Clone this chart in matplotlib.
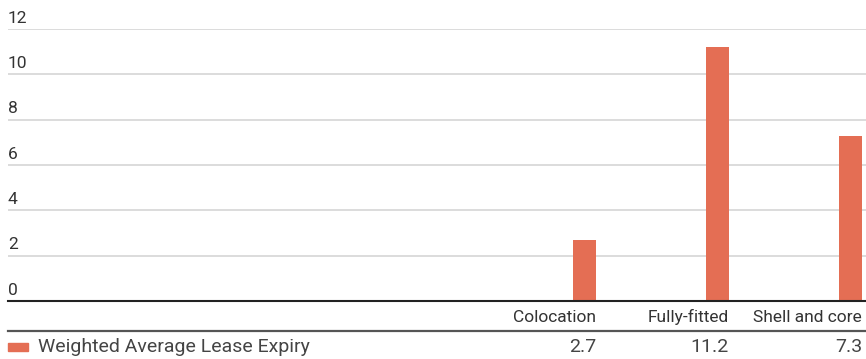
import matplotlib
matplotlib.use("Agg")
import matplotlib.pyplot as plt
from matplotlib.patches import Rectangle

categories = ["Colocation", "Fully-fitted", "Shell and core"]
series_name = "Weighted Average Lease Expiry"
values = [2.7, 11.2, 7.3]
value_labels = ["2.7", "11.2", "7.3"]
y_ticks = [0, 2, 4, 6, 8, 10, 12]

BAR = "#E46E54"
TEXT = "#333333"

plt.rcParams["font.family"] = ["Roboto", "DejaVu Sans"]

W, H = 866, 359
fig = plt.figure(figsize=(W / 100, H / 100), dpi=100)

# plot area in pixels: x 8..866, y 29 (top) .. 301 (baseline)
left_px, right_px, top_px, base_px = 8, 866, 29, 301
ax = fig.add_axes([left_px / W, (H - base_px) / H,
                   (right_px - left_px) / W, (base_px - top_px) / H])

# table columns: a label column then one column of 133 px per category
col_w = 133.0
label_cols = (right_px - left_px - col_w * len(categories)) / col_w
ax.set_xlim(-0.5 - label_cols, len(categories) - 0.5)
ax.set_ylim(0, 12)

pad = 4 / col_w
bar_w = 23 / col_w
xs = [i + 0.5 - pad - bar_w / 2 for i in range(len(categories))]
ax.bar(xs, values, width=bar_w, color=BAR, zorder=3)

for t in y_ticks[1:]:
    ax.axhline(t, color="#d2d2d2", lw=1.1, zorder=1)
    ax.annotate(str(t), (0, t), xycoords=("axes fraction", "data"),
                xytext=(0, 2.5), textcoords="offset points",
                ha="left", va="bottom", fontsize=12.5, color=TEXT)
ax.axhline(0, color="#222222", lw=1.5, zorder=4, clip_on=False)
ax.annotate("0", (0, 0), xycoords=("axes fraction", "data"),
            xytext=(0, 2.5), textcoords="offset points",
            ha="left", va="bottom", fontsize=12.5, color=TEXT)

ax.set_xticks([])
ax.set_yticks([])
for s in ax.spines.values():
    s.set_visible(False)

# data table below the plot
def fx(px):
    return px / W

def fy(py):
    return (H - py) / H

for i, (cat, lab) in enumerate(zip(categories, value_labels)):
    x_right = left_px + (label_cols + i + 1) * col_w - 4
    fig.text(fx(x_right), fy(317), cat, ha="right", va="center",
             fontsize=12.5, color=TEXT)
    fig.text(fx(x_right), fy(347.5), lab, ha="right", va="center",
             fontsize=14, color="#444444")

fig.add_artist(plt.Line2D([fx(left_px), fx(right_px)], [fy(330.5), fy(330.5)],
                          color="#555555", lw=1.6))
fig.add_artist(Rectangle((fx(8), fy(351)), 20 / W, 8 / H,
                         transform=fig.transFigure, color=BAR))
fig.text(fx(38), fy(347.5), series_name, ha="left", va="center",
         fontsize=14, color="#444444")

fig.savefig("out.png", dpi=100)
